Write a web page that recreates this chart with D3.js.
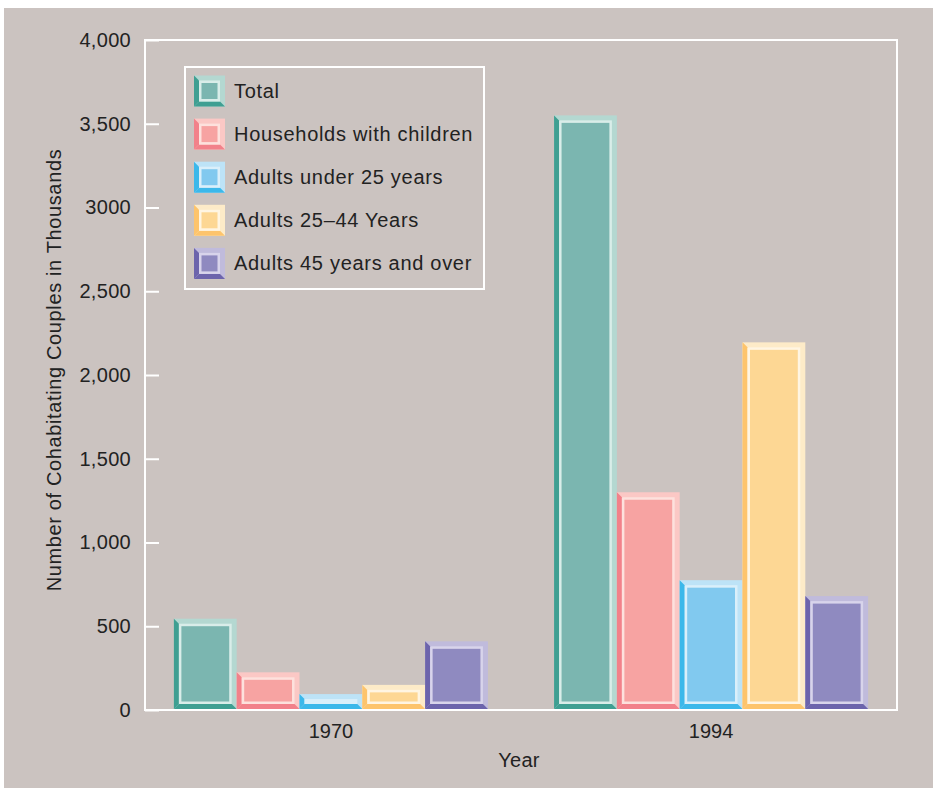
<!DOCTYPE html>
<html><head><meta charset="utf-8">
<script src="https://cdn.jsdelivr.net/npm/d3@7/dist/d3.min.js"></script>
<style>body{margin:0;background:#fff;}svg{display:block;}</style>
</head><body>
<script>
const years = ["1970", "1994"];
const seriesNames = ["Total", "Households with children", "Adults under 25 years", "Adults 25\u201344 Years", "Adults 45 years and over"];
const values1970 = [545, 225, 95, 150, 410];
const values1994 = [3550, 1300, 775, 2195, 680];
const tickValues = [0, 500, 1000, 1500, 2000, 2500, 3000, 3500, 4000];
const tickLabels = ["0", "500", "1,000", "1,500", "2,000", "2,500", "3000", "3,500", "4,000"];
const darkColors = ["#3f9f92", "#f2818a", "#3cb8ea", "#fdc46c", "#6c64ac"];
const lightColors = ["#b4d8d1", "#fbc8c5", "#bde3f7", "#fdebc8", "#c0bbdc"];
const fillColors = ["#7bb6b0", "#f7a3a2", "#81c9ef", "#fdd794", "#8f8ac0"];
const lineColors = ["#d9ede9", "#fde1dd", "#daeffa", "#fff5e2", "#d8d4eb"];

const W = 935, H = 788;
const svg = d3.select("body").append("svg").attr("width", W).attr("height", H);
svg.append("rect").attr("x", 4).attr("y", 8).attr("width", 929).attr("height", 780).attr("fill", "#cbc3c0");

const pLeft = 145, pRight = 897, pTop = 40, pBottom = 710;
const y = d3.scaleLinear().domain([0, 4000]).range([pBottom, pTop]);
const x0 = d3.scaleBand().domain(years).range([pLeft, pRight]).paddingInner(0.174).paddingOuter(0.076);
const x1 = d3.scaleBand().domain(seriesNames).range([0, x0.bandwidth()]);
const font = "'Liberation Sans', Arial, Helvetica, sans-serif";
const txt = "#222";

function bevel(g, bx0, by0, bx1, by1, i, b) {
  g.append("rect").attr("x", bx0).attr("y", by0).attr("width", bx1 - bx0).attr("height", by1 - by0).attr("fill", lightColors[i]);
  g.append("polygon").attr("points", [[bx0, by0], [bx0 + b, by0 + b], [bx0 + b, by1 - b], [bx0, by1]].join(" ")).attr("fill", darkColors[i]);
  g.append("polygon").attr("points", [[bx0, by1], [bx0 + b, by1 - b], [bx1 - b, by1 - b], [bx1, by1]].join(" ")).attr("fill", darkColors[i]);
  const iw = bx1 - bx0 - 2 * b, ih = by1 - by0 - 2 * b;
  if (iw > 0 && ih > 0) {
    g.append("rect").attr("x", bx0 + b).attr("y", by0 + b).attr("width", iw).attr("height", ih).attr("fill", lineColors[i]);
    const s = 2.5;
    if (iw > 2 * s && ih > 2 * s)
      g.append("rect").attr("x", bx0 + b + s).attr("y", by0 + b + s).attr("width", iw - 2 * s).attr("height", ih - 2 * s).attr("fill", fillColors[i]);
  }
}

// Bars
const data = [values1970, values1994];
const barsG = svg.append("g");
years.forEach((yr, gi) => {
  data[gi].forEach((v, i) => {
    const bx = x0(yr) + x1(seriesNames[i]);
    bevel(barsG, bx, y(v), bx + x1.bandwidth(), y(0) - 1, i, 5);
  });
});

// Frame
svg.append("rect").attr("x", pLeft).attr("y", pTop).attr("width", pRight - pLeft).attr("height", pBottom - pTop)
  .attr("fill", "none").attr("stroke", "#fff").attr("stroke-width", 2);

// Y axis
const yAxis = d3.axisLeft(y).tickValues(tickValues).tickFormat((d, i) => tickLabels[i]).tickSizeInner(-14).tickSizeOuter(0).tickPadding(14);
const yg = svg.append("g").attr("transform", `translate(${pLeft},0)`).call(yAxis);
yg.select(".domain").remove();
yg.selectAll(".tick line").attr("stroke", "#fff").attr("stroke-width", 2);
yg.selectAll(".tick text").attr("fill", txt).style("font-family", font).style("font-size", "20px").style("letter-spacing", "0.3px");

// X axis labels
const xAxis = d3.axisBottom(x0).tickSize(0).tickPadding(14);
const xg = svg.append("g").attr("transform", `translate(0,${pBottom})`).call(xAxis);
xg.select(".domain").remove();
xg.selectAll(".tick text").attr("fill", txt).style("font-family", font).style("font-size", "20px");

svg.append("text").attr("x", 519).attr("y", 767).attr("text-anchor", "middle").attr("fill", txt)
  .style("font-family", font).style("font-size", "20px").style("letter-spacing", "0.3px").text("Year");
svg.append("text").attr("transform", "translate(61,370) rotate(-90)").attr("text-anchor", "middle").attr("fill", txt)
  .style("font-family", font).style("font-size", "20px").style("letter-spacing", "0.63px").text("Number of Cohabitating Couples in Thousands");

// Legend
const lg = svg.append("g");
lg.append("rect").attr("x", 185).attr("y", 67).attr("width", 299).attr("height", 222).attr("fill", "none").attr("stroke", "#fff").attr("stroke-width", 2);
seriesNames.forEach((name, i) => {
  const cy = 91 + i * 43.1;
  bevel(lg, 194, cy - 15.5, 225, cy + 15.5, i, 5);
  lg.append("text").attr("x", 234).attr("y", cy + 7).attr("fill", txt).style("font-family", font).style("font-size", "20px").style("letter-spacing", "0.7px").text(name);
});
</script>
</body></html>
